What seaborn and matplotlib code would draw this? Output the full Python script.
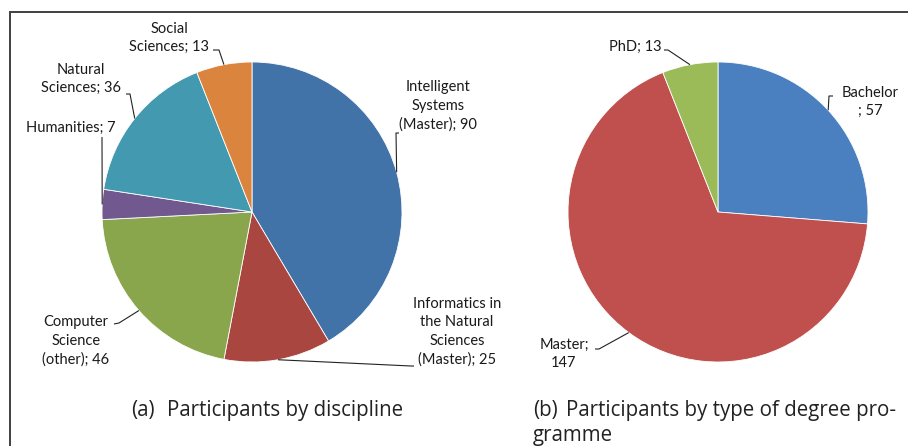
import numpy as np
import matplotlib
matplotlib.use("Agg")
import matplotlib.pyplot as plt
import seaborn as sns

W, H = 908, 446

# data
disc_labels = ["Intelligent\nSystems\n(Master); 90",
               "Informatics in\nthe Natural\nSciences\n(Master); 25",
               "Computer\nScience\n(other); 46",
               "Humanities; 7",
               "Natural\nSciences; 36",
               "Social\nSciences; 13"]
disc_values = [90, 25, 46, 7, 36, 13]
disc_colors = ["#4172A8", "#A9463F", "#8AA64C", "#71588F", "#4299B0", "#DB843D"]

deg_labels = ["Bachelor\n; 57", "Master;\n147", "PhD; 13"]
deg_values = [57, 147, 13]
deg_colors = ["#4A7FC0", "#C0504D", "#9BBB59"]

# layout (pixels, y measured from top): text centre, leader elbow, leader end
disc_text = [(438, 106), (457, 332), (76, 341), (71, 128), (81, 79), (169, 38)]
disc_elbow = [((396, 133), (399, 133)), ((411, 366), (414, 366)),
              ((119, 323), (114, 324)), ((102, 137), (102, 137)),
              ((130, 94), (126, 94)), ((219, 50), (213, 50))]
deg_text = [(870, 102), (564, 354), (635, 47)]
deg_elbow = [((829, 96), (833, 96)), ((599, 349), (595, 349)),
             ((668, 50), (664, 50))]

sns.set_theme(style="white")
plt.rcParams["font.family"] = ["Lato", "DejaVu Sans"]

fig = plt.figure(figsize=(W / 100, H / 100), dpi=100)
ax = fig.add_axes([0, 0, 1, 1])


def Y(y):
    return H - y


def draw_pie(values, colors, labels, cx, cy, texts, elbows):
    wedges, _ = ax.pie(values, colors=colors, startangle=90, counterclock=False,
                       center=(cx, Y(cy)), radius=150, frame=True,
                       wedgeprops=dict(linewidth=0.6, edgecolor="white"))
    for w, lab, (tx, ty), (el, en) in zip(wedges, labels, texts, elbows):
        mid = np.deg2rad((w.theta1 + w.theta2) / 2)
        px, py = cx + 150 * np.cos(mid), Y(cy) + 150 * np.sin(mid)
        ax.plot([px, el[0], en[0]], [py, Y(el[1]), Y(en[1])],
                color="#222222", lw=0.8, solid_capstyle="butt")
        ax.text(tx, Y(ty), lab, ha="center", va="center", fontsize=10.5,
                linespacing=1.42, color="#1a1a1a")


draw_pie(disc_values, disc_colors, disc_labels, 252, 212, disc_text, disc_elbow)
draw_pie(deg_values, deg_colors, deg_labels, 718, 212, deg_text, deg_elbow)

# frame
ax.plot([10, 10, W], [0, Y(12), Y(12)], color="#404040", lw=1.4,
        solid_joinstyle="miter")

cap = dict(fontsize=14.8, color="#222222", va="baseline", ha="left",
           family=["Open Sans", "DejaVu Sans"])
ax.text(131, Y(416), "(a)", **cap)
ax.text(167, Y(416), "Participants by discipline", **cap)
ax.text(533, Y(416), "(b)", **cap)
ax.text(566, Y(416), "Participants by type of degree pro-", **cap)
ax.text(533, Y(441), "gramme", **cap)

ax.set_xlim(0, W)
ax.set_ylim(0, H)
ax.set_aspect("auto")
ax.axis("off")

fig.savefig("out.png", dpi=100)
